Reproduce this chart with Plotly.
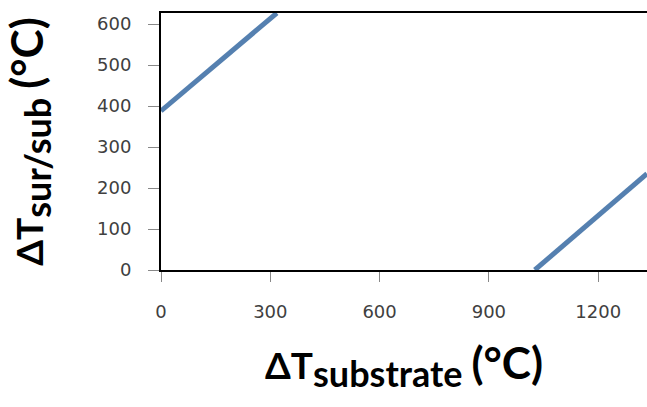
import plotly.graph_objects as go

# Data
line1_x = [0, 318]
line1_y = [388, 627]
line2_x = [1026, 1334]
line2_y = [0, 235]

x_ticks = [0, 300, 600, 900, 1200]
y_ticks = [0, 100, 200, 300, 400, 500, 600]
x_range = [0, 1334]
y_range = [0, 627]

color = "#5580B0"

fig = go.Figure()
fig.add_trace(go.Scatter(x=line1_x, y=line1_y, mode="lines",
                         line=dict(color=color, width=5), showlegend=False))
fig.add_trace(go.Scatter(x=line2_x, y=line2_y, mode="lines",
                         line=dict(color=color, width=5), showlegend=False))

fig.update_layout(
    width=647, height=407,
    margin=dict(l=161, r=0, t=13, b=137),
    paper_bgcolor="white", plot_bgcolor="white",
    showlegend=False,
)
xtitle = ("<b>ΔT<sub><span style='font-size:36px'>substrate</span></sub> "
          "<span style='font-size:44px'>(°C)</span></b>")
ytitle = ("<b>ΔT<sub><span style='font-size:36px'>sur/sub</span></sub> "
          "<span style='font-size:44px'>(°C)</span></b>")
fig.update_xaxes(
    range=x_range, tickvals=x_ticks, ticktext=[str(v) for v in x_ticks],
    showgrid=False, zeroline=False, showline=True, linecolor="black", linewidth=2,
    mirror=True, automargin=False,
    ticks="outside", ticklen=10, tickcolor="#888888", tickwidth=1,
    ticklabelstandoff=14,
    tickfont=dict(family="DejaVu Sans", size=18, color="#404040"),
    title=dict(text=xtitle, standoff=33,
               font=dict(family="Lato", size=37, color="black")),
)
fig.update_yaxes(
    range=y_range, tickvals=y_ticks, ticktext=[str(v) for v in y_ticks],
    showgrid=False, zeroline=False, showline=True, linecolor="black", linewidth=2,
    automargin=False,
    ticks="outside", ticklen=11, tickcolor="#888888", tickwidth=1,
    ticklabelstandoff=13,
    tickfont=dict(family="DejaVu Sans", size=18, color="#404040"),
    title=dict(text=ytitle, standoff=55,
               font=dict(family="Lato", size=37, color="black")),
)

fig.write_html(
    "out.html",
    config={"displayModeBar": False},
    post_script="document.body.style.margin='0';document.body.style.overflow='hidden';",
)
